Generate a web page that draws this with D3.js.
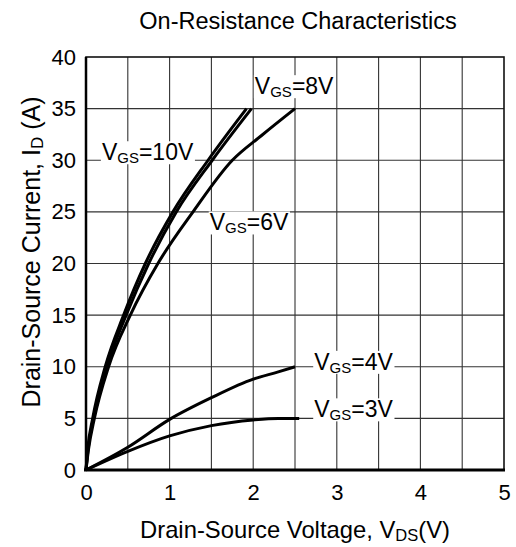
<!DOCTYPE html>
<html>
<head>
<meta charset="utf-8">
<script src="https://cdn.jsdelivr.net/npm/d3@7"></script>
<style>
  body { margin: 0; background: #fff; }
  svg { font-family: "Liberation Sans", Arial, sans-serif; }
</style>
</head>
<body>
<svg id="chart" width="516" height="547"></svg>
<script>
// V_DS (V), I_D (A)
const vgs10 = [[0,0],[0.02,2],[0.08,5],[0.23,10],[0.45,15],[0.71,20],[1.04,25],[1.46,30],[1.92,35]]
const vgs8  = [[0,0],[0.025,2],[0.09,5],[0.25,10],[0.48,15],[0.75,20],[1.08,25],[1.51,30],[1.98,35]]
const vgs6  = [[0,0],[0.03,2],[0.10,5],[0.27,10],[0.53,15],[0.86,20],[1.28,25],[1.75,30],[2.10,32.4],[2.50,35]]
const vgs4  = [[0,0],[0.5,2.2],[1.0,4.9],[1.5,7.0],[2.0,8.8],[2.3,9.5],[2.5,10]]
const vgs3  = [[0,0],[0.5,1.8],[1.0,3.3],[1.5,4.3],[2.0,4.85],[2.3,5],[2.55,5]]

const xTicks = [0, 1, 2, 3, 4, 5]
const yTicks = [0, 5, 10, 15, 20, 25, 30, 35, 40]

// curve labels: gate voltage, anchor point in data units
const labels = [
    { vgs: '10V', v: 0.19, i: 30 },
    { vgs: '8V',  v: 2.02, i: 36.4 },
    { vgs: '6V',  v: 1.48, i: 23.2 },
    { vgs: '4V',  v: 2.73, i: 9.7 },
    { vgs: '3V',  v: 2.73, i: 5.1 }
]

const svg = d3.select('#chart')

const mLeft = 86, mRight = 504, mTop = 57, mBottom = 470

const x = d3.scaleLinear().domain([0, 5]).range([mLeft, mRight])
const y = d3.scaleLinear().domain([0, 40]).range([mBottom, mTop])

// grid
const grid = svg.append('g').attr('stroke', '#333').attr('stroke-width', 1.1)
grid.selectAll('line.v').data(d3.range(0.5, 5, 0.5)).enter().append('line')
    .attr('x1', d => x(d)).attr('x2', d => x(d))
    .attr('y1', mTop).attr('y2', mBottom)
grid.selectAll('line.h').data(yTicks.slice(1, -1)).enter().append('line')
    .attr('x1', mLeft).attr('x2', mRight)
    .attr('y1', d => y(d)).attr('y2', d => y(d))

// frame
svg.append('rect').attr('x', mLeft).attr('y', mTop)
    .attr('width', mRight - mLeft).attr('height', mBottom - mTop)
    .attr('fill', 'none').attr('stroke', '#111').attr('stroke-width', 1.6)
svg.append('line').attr('x1', mLeft).attr('x2', mLeft).attr('y1', mTop).attr('y2', mBottom)
    .attr('stroke', '#000').attr('stroke-width', 2.5)
svg.append('line').attr('x1', mLeft - 2).attr('x2', mRight + 1).attr('y1', mBottom).attr('y2', mBottom)
    .attr('stroke', '#000').attr('stroke-width', 3.2)

// axes (labels only, the grid does the ticks)
const xAxis = svg.append('g').attr('transform', `translate(0,${mBottom})`)
    .call(d3.axisBottom(x).tickValues(xTicks).tickSize(0).tickPadding(14).tickFormat(d3.format('d')))
const yAxis = svg.append('g').attr('transform', `translate(${mLeft},0)`)
    .call(d3.axisLeft(y).tickValues(yTicks).tickSize(0).tickPadding(10).tickFormat(d3.format('d')))
for (const ax of [xAxis, yAxis]) {
    ax.select('.domain').remove()
    ax.selectAll('text').attr('font-size', 22).attr('fill', '#000')
        .attr('font-family', '"Liberation Sans", Arial, sans-serif')
}

// curves
const line = d3.line().x(d => x(d[0])).y(d => y(d[1])).curve(d3.curveMonotoneX)
svg.append('g').selectAll('path').data([vgs10, vgs8, vgs6, vgs4, vgs3]).enter().append('path')
    .attr('d', line)
    .attr('fill', 'none').attr('stroke', '#000').attr('stroke-width', 3)
    .attr('stroke-linejoin', 'round')

// curve labels with white boxes
const lab = svg.append('g')
for (const l of labels) {
    const g = lab.append('g')
    const t = g.append('text').attr('x', x(l.v)).attr('y', y(l.i))
        .attr('font-size', 23).attr('fill', '#000')
    t.append('tspan').text('V')
    t.append('tspan').text('GS').attr('font-size', 15).attr('dy', 3)
    t.append('tspan').text('=' + l.vgs).attr('dy', -3)
    const b = t.node().getBBox()
    g.insert('rect', 'text').attr('x', b.x - 1).attr('y', b.y + 2)
        .attr('width', b.width + 2).attr('height', b.height - 4).attr('fill', '#fff')
}

// titles
svg.append('text').attr('x', 298).attr('y', 29).attr('text-anchor', 'middle')
    .attr('font-size', 23.5).text('On-Resistance Characteristics')

const xt = svg.append('text').attr('x', 295).attr('y', 538).attr('text-anchor', 'middle')
    .attr('font-size', 23.8)
xt.append('tspan').text('Drain-Source Voltage, V')
xt.append('tspan').text('DS').attr('font-size', 16.5).attr('dy', 3)
xt.append('tspan').text('(V)').attr('dy', -3)

const yt = svg.append('text').attr('transform', 'translate(40,252) rotate(-90)')
    .attr('text-anchor', 'middle').attr('font-size', 25)
yt.append('tspan').text('Drain-Source Current, I')
yt.append('tspan').text('D').attr('font-size', 17).attr('dy', 3)
yt.append('tspan').text(' (A)').attr('dy', -3)
</script>
</body>
</html>
